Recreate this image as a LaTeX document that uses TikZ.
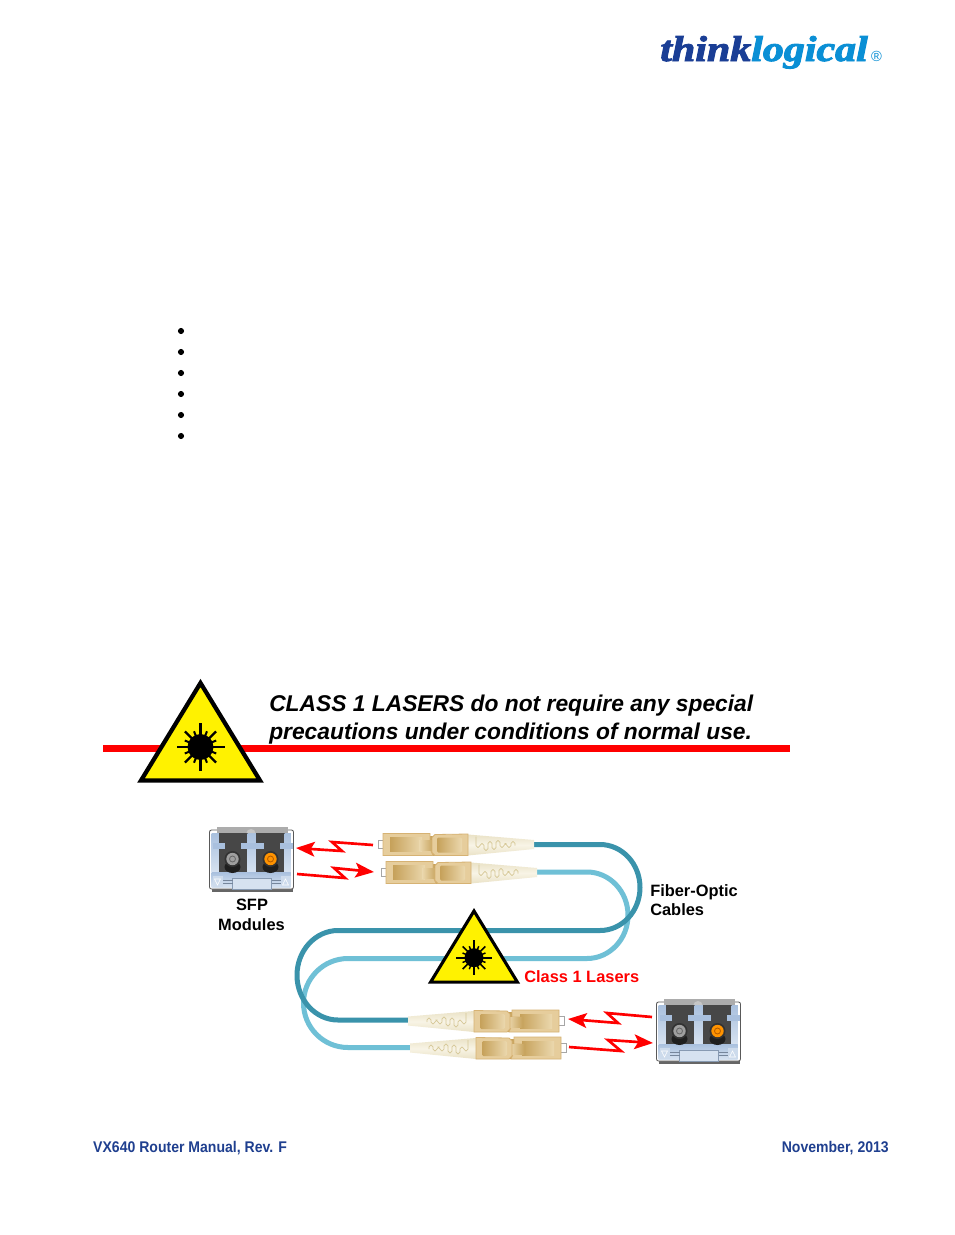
\documentclass[tikz,border=0pt]{standalone}
\usepackage{fontspec}
\setmainfont{Liberation Sans}
\newfontfamily\logofont{Liberation Serif}[BoldItalicFeatures={FakeBold=2.5}]
\usetikzlibrary{arrows.meta,calc}
\definecolor{footblue}{HTML}{1F3F8F}
\definecolor{logodark}{HTML}{1A3E95}
\definecolor{logolight}{HTML}{0A8FD5}
\definecolor{darkcable}{HTML}{3A93AB}
\definecolor{lightcable}{HTML}{6FC0D6}
\definecolor{tanedge}{HTML}{D6B273}
\definecolor{tanlight}{HTML}{E6CD9C}
\definecolor{tanpale}{HTML}{EBD8AE}
\definecolor{tandark}{HTML}{C6A15A}
\definecolor{bootc}{HTML}{F8F4E6}
\definecolor{bootl}{HTML}{D5C796}
\definecolor{bootedge}{HTML}{EAE2C6}
\definecolor{frameblue}{HTML}{A9C0DE}
\definecolor{framelight}{HTML}{D6E2F0}
\tikzset{
  cablepath/.style={line width=3.75pt,line join=round},
  bolt/.style={draw=red,line width=2pt,line join=miter,miter limit=10,-{Stealth[length=14pt,width=11pt,inset=3pt]}},
  sign/.style={draw=black,fill=yellow,line join=miter,miter limit=10},
  lbl/.style={font=\bfseries\fontsize{12.3pt}{14pt}\selectfont,inner sep=0pt,text=black},
  foot/.style={font=\bfseries\fontsize{11.6pt}{14pt}\selectfont,text=footblue,inner sep=0pt,xscale=.908},
  warn/.style={font=\bfseries\itshape\fontsize{17.1pt}{20pt}\selectfont,inner sep=0pt,anchor=base west},
  dotb/.style={circle,fill=black,inner sep=0pt,minimum size=4.6pt}
}
\newcommand{\lasersign}[4]{% cx, apex y, scale, name
  \begin{scope}[shift={(#1,#2)},scale=#3]
    \draw[sign,line width=#3*3.2pt] (0,0) -- (59.5,97.5) -- (-59.5,97.5) -- cycle;
    \fill[black] (0,64) circle (13);
    \foreach \a in {0,90,180,270}{\draw[black,line width=#3*1.7pt] (0,64) -- ++(\a:24);}
    \foreach \a in {45,135,225,315}{\draw[black,line width=#3*1.7pt] (0,64) -- ++(\a:22);}
    \foreach \a in {22.5,67.5,112.5,157.5,202.5,247.5,292.5,337.5}{\draw[black,line width=#3*1.5pt] (0,64) -- ++(\a:17);}
  \end{scope}}
\newcommand{\fiberconn}[3]{% x, y, xscale
  \begin{scope}[shift={(#1,#2)},xscale=#3]
    \fill[white,draw=gray!70,line width=.5pt] (0,-4.5) rectangle (5.5,4);
    \shade[top color=bootedge,bottom color=bootedge,middle color=bootc]
      (90,-10) -- (156,-4.5) -- (156,4.5) -- (90,11) -- cycle;
    \draw[bootl,line width=.5pt,rounded corners=1.4pt] (98,-8) -- (98,3) -- (102,3) -- (102,-1) -- (106,-1) -- (106,6) -- (110,6) -- (110,-3) -- (114,-3) -- (114,5) -- (118,5) -- (118,-4) -- (122,-4) -- (122,3) -- (126,3) -- (126,-1) -- (129,-1) -- (129,3) -- (133,3) -- (133,-3) -- (137,-3) -- (137,1);
    \fill[tandark] (50,-9) rectangle (60,11);
    \fill[tanlight,draw=tanedge,line width=.6pt] (5,-11) -- (52,-11) -- (52,-4) -- (44,-4) -- (44,4) -- (52,4) -- (55,11) -- (5,11) -- cycle;
    \shade[left color=tandark,right color=tanpale] (12,-7) rectangle (44,7);
    \shade[left color=tanpale,right color=tandark] (41,-4) rectangle (56,6);
    \fill[tanlight,draw=tanedge,line width=.6pt] (57,-10) -- (90,-10.5) -- (90,11) -- (57,11) -- (54,8) -- (54,-7) -- cycle;
    \shade[left color=tandark,right color=tanpale,rounded corners=1pt] (59,-7) rectangle (84,8);
  \end{scope}}
\newcommand{\sfpmodule}[2]{%
  \begin{scope}[shift={(#1,#2)}]
    \fill[black!60] (2,50) rectangle (83,65);
    \fill[white,draw=gray!70!black,line width=.6pt,rounded corners=1.5pt] (0,3) rectangle (84,62);
    \fill[frameblue] (2,6) rectangle (81,60);
    \fill[black!72] (9,6) rectangle (38,45);
    \fill[black!72] (46,6) rectangle (75,45);
    \shade[top color=frameblue,bottom color=framelight] (38,6) rectangle (46,45);
    \shade[top color=frameblue,bottom color=framelight] (2,6) rectangle (9,45);
    \shade[top color=frameblue,bottom color=framelight] (75,6) rectangle (81,45);
    \fill[frameblue] (3,16) rectangle (15,21.5);
    \fill[frameblue] (31,16) rectangle (54,21.5);
    \fill[frameblue] (70,16) rectangle (83,21.5);
    \fill[gray!65] (7,0) rectangle (78,6);
    \fill[gray!45] (37,6) arc (180:360:4.5 and 4) -- cycle;
    \shade[top color=frameblue,bottom color=framelight] (2,45) rectangle (81,60);
    \fill[black!88] (23,40) ellipse (8 and 6);
    \fill[black!88] (61,40) ellipse (8 and 6);
    \fill[black!80] (23,32) circle (8);
    \fill[gray!75] (23,32) circle (6.2);
    \draw[black!60,line width=.6pt] (23,32) circle (3);
    \fill[black!80] (61,32) circle (8);
    \fill[orange!85!yellow] (61,32) circle (6.2);
    \draw[black!30!orange,line width=.6pt] (61,32) circle (3);
    \fill[framelight,draw=frameblue!80!black,line width=.3pt] (23,51) rectangle (62,62);
    \draw[frameblue!70!black,line width=.4pt] (12,53) -- (23,53) (12,56) -- (23,56) (62,53) -- (73,53) (62,56) -- (73,56);
    \fill[framelight!80!frameblue] (3,49) rectangle (13,60);
    \fill[framelight!80!frameblue] (71,49) rectangle (81,60);
    \draw[white,line width=.4pt] (5,52) -- (11,52) -- (8,58) -- cycle (73,58) -- (79,58) -- (76,52) -- cycle;
  \end{scope}}
\begin{document}
\begin{tikzpicture}[x=.75pt,y=-.75pt]
\useasboundingbox (0,0) rectangle (954,1235);
\fill[white] (0,0) rectangle (954,1235);

% logo
\node[inner sep=0pt,anchor=base west,font=\logofont\bfseries\itshape\fontsize{27pt}{30pt}\selectfont,xscale=1.165] (logo) at (660,61) {\textcolor{logodark}{think}\textcolor{logolight}{logical}};
\node[inner sep=0pt,text=logolight,font=\fontsize{11pt}{11pt}\selectfont] (reg) at (876.5,56) {®};

% bullets
\foreach \i/\yy in {1/331,2/352,3/373,4/394,5/415,6/436}{\node[dotb] (b\i) at (181,\yy) {};}

% warning
\fill[red] (103,745) rectangle (790,752);
\lasersign{200.5}{683}{1}{s1}
\node[warn] (w1) at (269,711.5) {CLASS 1 LASERS do not require any special};
\node[warn] (w2) at (269,739) {precautions under conditions of normal use.};

% cables
\coordinate (d1) at (533,844.5);
\coordinate (d2) at (408,1020);
\coordinate (l1) at (536,872);
\coordinate (l2) at (410,1047.5);
\draw[cablepath,lightcable] (l1) -- (587,872) arc (-90:90:41 and 43.25) -- (348,958.5) arc (270:90:44.5 and 44.5) -- (l2);
\draw[cablepath,darkcable] (d1) -- (600,844.5) arc (-90:90:40 and 43) -- (338,930.5) arc (270:90:41 and 44.75) -- (d2);

% connectors
\fiberconn{378}{844.5}{1}
\fiberconn{381}{872.5}{1}
\fiberconn{564}{1021}{-1}
\fiberconn{566}{1048}{-1}

% modules
\sfpmodule{209.5}{827}
\sfpmodule{656.5}{999}

% bolts
\coordinate (a1) at (373,845); \coordinate (a2) at (296,848);
\draw[bolt] (a1) -- (332,842) -- (342,851) -- (a2);
\coordinate (a3) at (297,874); \coordinate (a4) at (374,872);
\draw[bolt] (a3) -- (345,878) -- (334,868) -- (a4);
\coordinate (a5) at (652,1017); \coordinate (a6) at (568,1019);
\draw[bolt] (a5) -- (607,1013) -- (618,1023) -- (a6);
\coordinate (a7) at (569,1047); \coordinate (a8) at (653,1043);
\draw[bolt] (a7) -- (621,1051) -- (608,1040) -- (a8);

% small sign
\lasersign{474}{911}{.73}{s2}

% labels
\node[lbl] (sfp) at (252,904.5) {SFP};
\node[lbl] (mod) at (251.5,924.5) {Modules};
\node[lbl,anchor=west] (fo) at (650,892) {Fiber-Optic};
\node[lbl,anchor=west] (cb) at (650,909.5) {Cables};
\node[lbl,anchor=west,text=red] (cl) at (524,976.5) {Class 1 Lasers};

% footer
\node[foot,anchor=west] (fl) at (93,1148.5) {VX640 Router Manual, Rev. F};
\node[foot,anchor=east] (fr) at (889,1148.5) {November, 2013};
\end{tikzpicture}
\end{document}
